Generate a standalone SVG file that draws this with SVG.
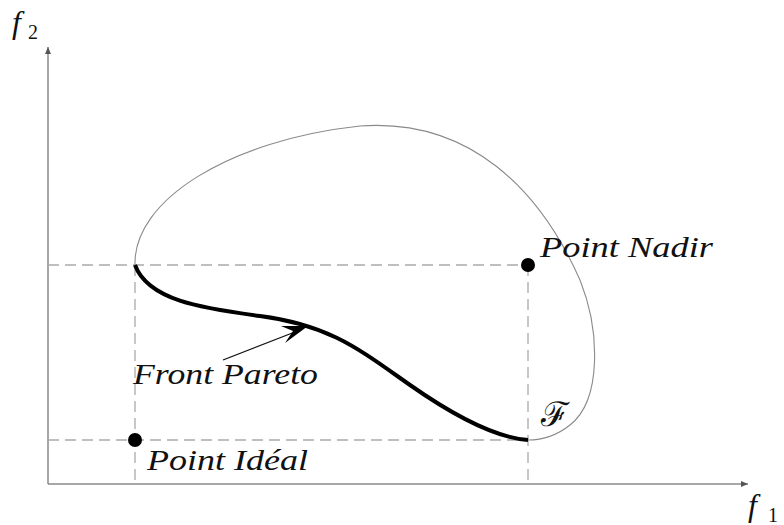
<svg xmlns="http://www.w3.org/2000/svg" width="784" height="525" viewBox="0 0 784 525">
<style>
.ax{stroke:#8a8a8a;stroke-width:1.5;fill:none}
.dash{stroke:#aaaaaa;stroke-width:1.3;fill:none;stroke-dasharray:11 6}
.lbl{font-family:'Liberation Serif','Times New Roman',serif;font-style:italic;fill:#111}
.up{font-family:'Liberation Serif','Times New Roman',serif;font-style:normal;fill:#111}
.scr{font-family:'DejaVu Serif',serif;font-style:normal;fill:#111}
</style>
<defs>
<marker id="ah" markerWidth="8" markerHeight="8" refX="7" refY="4" orient="auto" markerUnits="userSpaceOnUse">
<path d="M0,1 L7,4 L0,7 Z" fill="#555"/>
</marker>
</defs>
<rect width="784" height="525" fill="#fff"/>
<g id="axes">
<line class="ax" x1="48" y1="484" x2="48" y2="47" marker-end="url(#ah)"/>
<line class="ax" x1="48" y1="484" x2="748" y2="484" marker-end="url(#ah)"/>
<text class="lbl" x="12" y="33" font-size="32">f</text>
<text class="up" x="28" y="39" font-size="20">2</text>
<text class="lbl" x="748" y="516" font-size="32">f</text>
<text class="up" x="768" y="522" font-size="20">1</text>
</g>
<g id="guides">
<line class="dash" x1="48" y1="265" x2="528" y2="265"/>
<line class="dash" x1="48" y1="440" x2="528" y2="440"/>
<line class="dash" x1="135" y1="265" x2="135" y2="484"/>
<line class="dash" x1="528" y1="265" x2="528" y2="484"/>
</g>
<g id="region">
<path d="M135,265 C133,200 230,140 360,126 C470,118 540,190 580,280 C600,330 602,400 570,425 C555,437 540,440 528,440" fill="none" stroke="#8a8a8a" stroke-width="1.1"/>
<text class="scr" x="541" y="426" font-size="34">ℱ</text>
</g>
<g id="pareto">
<path d="M135,265 C148,300 200,308 260,316 C330,325 360,350 410,385 C460,420 500,438 528,440" fill="none" stroke="#000" stroke-width="4"/>
</g>
<g id="connectors">
<line x1="223" y1="360" x2="300" y2="330" stroke="#111" stroke-width="1.3"/>
<path d="M308,326 L281,326 L293,331 L285,343 Z" fill="#000"/>
</g>
<g id="nadir">
<circle cx="528" cy="265" r="7" fill="#000"/>
<text class="lbl" x="540" y="257" font-size="30" textLength="173" lengthAdjust="spacingAndGlyphs">Point Nadir</text>
</g>
<g id="ideal">
<circle cx="135" cy="440" r="7" fill="#000"/>
<text class="lbl" x="147" y="470" font-size="30" textLength="161" lengthAdjust="spacingAndGlyphs">Point Idéal</text>
</g>
<g id="front-label">
<text class="lbl" x="133" y="384" font-size="30" textLength="185" lengthAdjust="spacingAndGlyphs">Front Pareto</text>
</g>
</svg>
